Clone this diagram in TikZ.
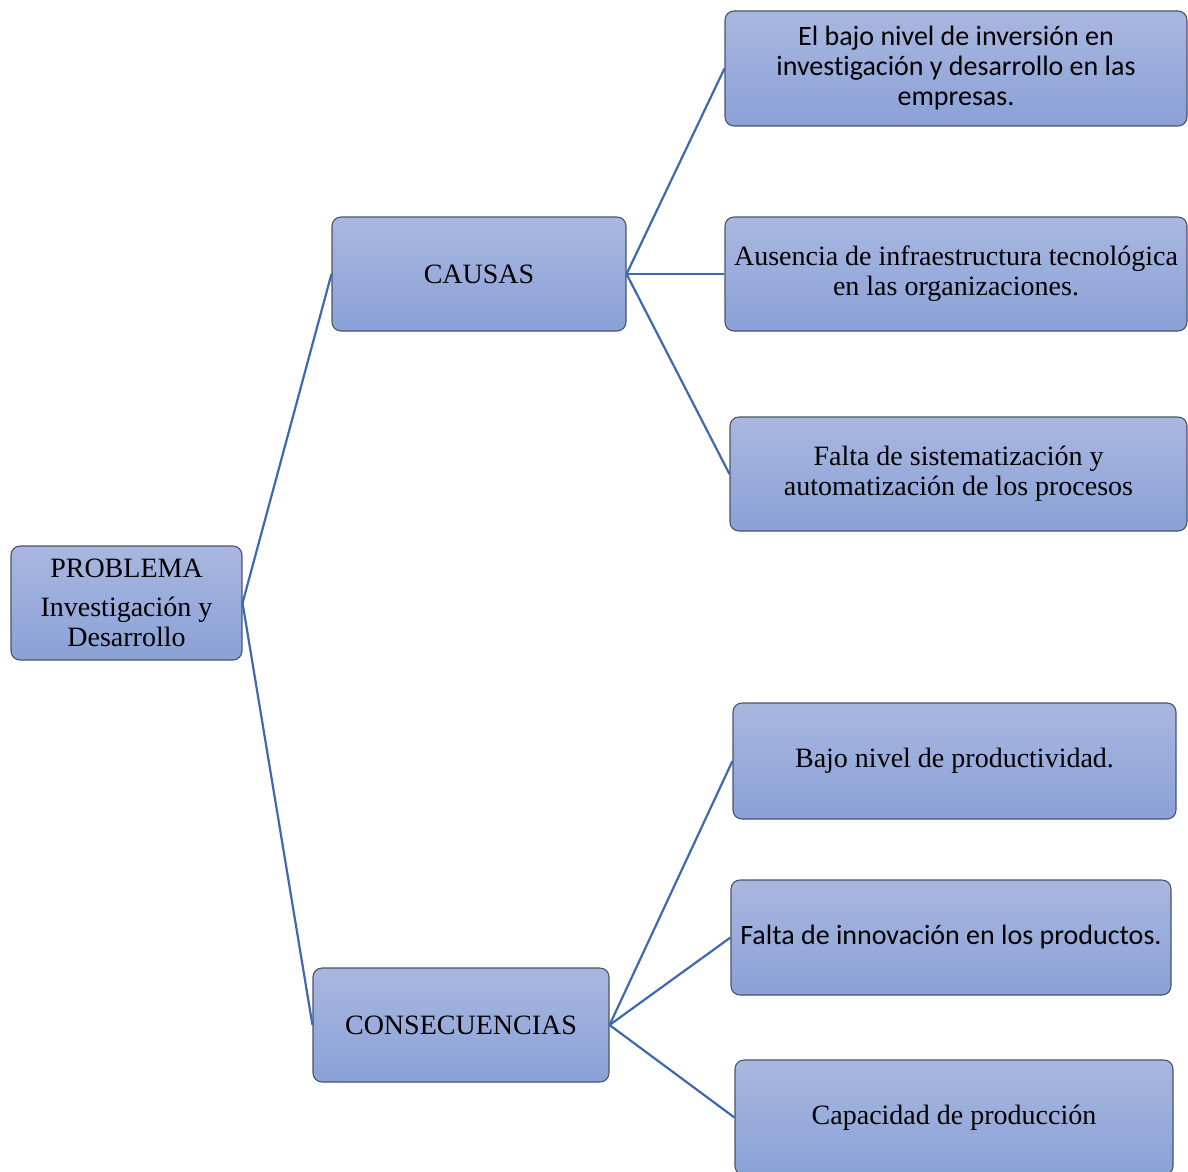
\documentclass[tikz,border=0pt]{standalone}
\usepackage{fontspec}
\setmainfont{Liberation Serif}
\newfontfamily\calibrisub[Ligatures=CommonOff]{Carlito}
\definecolor{boxtop}{HTML}{A9B7E0}
\definecolor{boxbot}{HTML}{8AA1D7}
\definecolor{boxline}{HTML}{4A5468}
\definecolor{linkblue}{HTML}{3E68B0}
\begin{document}
\begin{tikzpicture}[x=1pt,y=-1pt,
  cajon/.style={draw=boxline,line width=1.1pt,rounded corners=9pt,
    top color=boxtop,bottom color=boxbot,shading angle=0,
    align=center,font=\fontsize{28}{30}\selectfont,inner sep=0pt},
  enlace/.style={draw=linkblue,line width=2.2pt}]
\useasboundingbox (0,0) rectangle (1188,1171);

\node[cajon,minimum width=231pt,minimum height=114pt] (problema) at (126.5,603)
  {PROBLEMA\\[9pt]Investigación y\\Desarrollo};

\node[cajon,minimum width=294pt,minimum height=114pt] (causas) at (479,274) {CAUSAS};
\node[cajon,minimum width=296pt,minimum height=114pt] (consec) at (461,1025) {CONSECUENCIAS};

\node[cajon,minimum width=462pt,minimum height=115pt,font=\calibrisub\fontsize{28}{30}\selectfont] (causa1) at (956,68.5)
  {El bajo nivel de inversión en\\investigación y desarrollo en las\\empresas.};
\node[cajon,minimum width=462pt,minimum height=114pt] (causa2) at (956,274)
  {Ausencia de infraestructura tecnológica\\en las organizaciones.};
\node[cajon,minimum width=457pt,minimum height=114pt] (causa3) at (958.5,474)
  {Falta de sistematización y\\automatización de los procesos};

\node[cajon,minimum width=443pt,minimum height=116pt] (conse1) at (954.5,761)
  {Bajo nivel de productividad.};
\node[cajon,minimum width=440pt,minimum height=115pt,font=\calibrisub\fontsize{28}{30}\selectfont] (conse2) at (951,937.5)
  {Falta de innovación en los productos.};
\node[cajon,minimum width=438pt,minimum height=115pt] (conse3) at (954,1117.5)
  {Capacidad de producción};

\draw[enlace] (problema.east)--(causas.west);
\draw[enlace] (problema.east)--(consec.west);

\draw[enlace] (causas.east)--(causa1.west);
\draw[enlace] (causas.east)--(causa2.west);
\draw[enlace] (causas.east)--(causa3.west);

\draw[enlace] (consec.east)--(conse1.west);
\draw[enlace] (consec.east)--(conse2.west);
\draw[enlace] (consec.east)--(conse3.west);

\end{tikzpicture}
\end{document}
